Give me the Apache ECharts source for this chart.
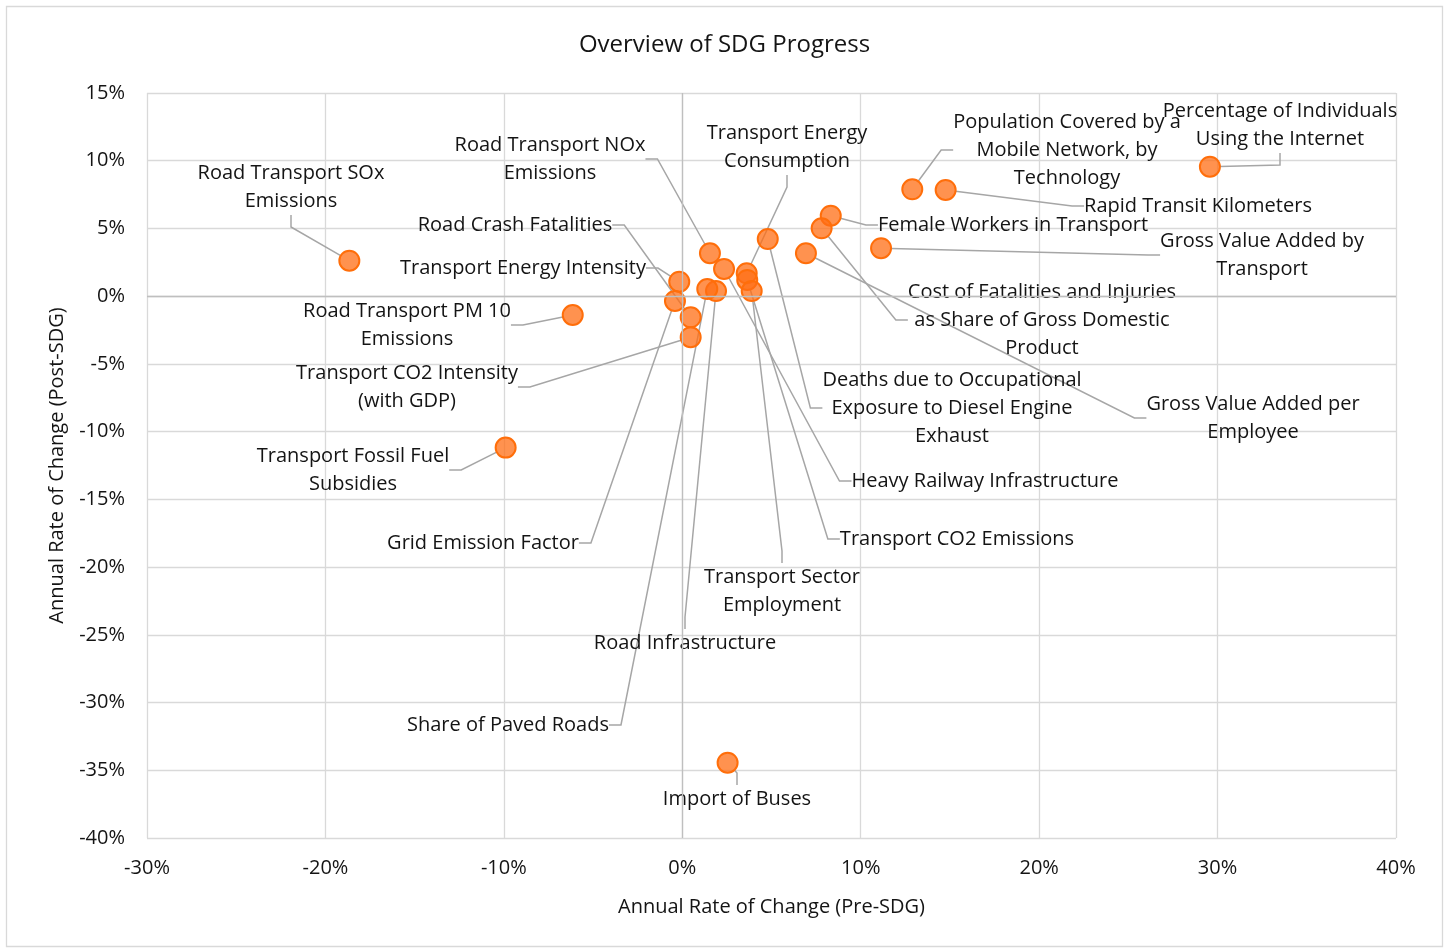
<!DOCTYPE html>
<html>
<head>
<meta charset="utf-8">
<script src="https://cdn.jsdelivr.net/npm/echarts@6/dist/echarts.min.js"></script>
<style>
  html, body { margin: 0; padding: 0; background: #fff; }
  #chartTest { width: 1449px; height: 948px; }
</style>
</head>
<body>
<div id="chartTest"></div>
<script>
var myChart = echarts.init(document.getElementById("chartTest"));

// indicator names (line breaks as in the picture)
var names = [
	"Road Transport SOx\nEmissions",
	"Road Transport NOx\nEmissions",
	"Transport Energy\nConsumption",
	"Population Covered by a\nMobile Network, by\nTechnology",
	"Percentage of Individuals\nUsing the Internet",
	"Rapid Transit Kilometers",
	"Female Workers in Transport",
	"Gross Value Added by\nTransport",
	"Road Crash Fatalities",
	"Transport Energy Intensity",
	"Road Transport PM 10\nEmissions",
	"Cost of Fatalities and Injuries\nas Share of Gross Domestic\nProduct",
	"Transport CO2 Intensity\n(with GDP)",
	"Deaths due to Occupational\nExposure to Diesel Engine\nExhaust",
	"Gross Value Added per\nEmployee",
	"Transport Fossil Fuel\nSubsidies",
	"Heavy Railway Infrastructure",
	"Grid Emission Factor",
	"Transport CO2 Emissions",
	"Transport Sector\nEmployment",
	"Road Infrastructure",
	"Share of Paved Roads",
	"Import of Buses"
];

// annual rate of change, pre-SDG (%)
var preSDG = [-18.66, 1.55, 3.61, 12.89, 29.57, 14.76, 8.32, 11.14, 0.47, -0.17, -6.14, 7.81,
	0.47, 4.79, 6.93, -9.90, 2.34, -0.41, 3.64, 3.89, 1.89, 1.40, 2.54];

// annual rate of change, post-SDG (%)
var postSDG = [2.62, 3.17, 1.69, 7.89, 9.56, 7.84, 5.94, 3.54, -1.56, 1.07, -1.39, 5.01,
	-3.03, 4.22, 3.17, -11.18, 2.01, -0.35, 1.20, 0.38, 0.38, 0.53, -34.44];

// where each label box is centred on the page (layout only)
var labelAt = [
	[291, 187], [550, 159], [787, 147], [1067, 150], [1280, 125], [1198, 206],
	[1013, 225], [1262, 255], [515, 225], [523, 268], [407, 325], [1042, 320],
	[407, 387], [952, 408], [1253, 418], [353, 470], [985, 481], [483, 543],
	[957, 539], [782, 591], [685, 643], [508, 725], [737, 799]
];

var points = [];
for (var i = 0; i < names.length; i++) {
	points.push({ name: names[i], value: [preSDG[i], postSDG[i]] });
}

var fontName = "'Open Sans', 'Noto Sans', sans-serif";
var textColor = '#141414';

var option = {
	backgroundColor: '#ffffff',
	animation: false,
	title: {
		text: 'Overview of SDG Progress',
		left: 'center',
		top: 33,
		padding: 0,
		textStyle: {
			fontFamily: fontName,
			fontSize: 24,
			fontWeight: 'normal',
			color: textColor
		}
	},
	graphic: [{
		type: 'rect',
		silent: true,
		shape: { x: 6.5, y: 6.5, width: 1436, height: 940 },
		style: { fill: 'none', stroke: '#d9d9d9', lineWidth: 1.3 }
	}],
	grid: {
		left: 147,
		right: 53,
		top: 93,
		bottom: 110
	},
	xAxis: {
		type: 'value',
		min: -30,
		max: 40,
		interval: 10,
		name: 'Annual Rate of Change (Pre-SDG)',
		nameLocation: 'middle',
		nameGap: 59,
		nameTextStyle: { fontFamily: fontName, fontSize: 20, color: textColor },
		axisLine: { show: false },
		axisTick: { show: false },
		axisLabel: {
			margin: 20,
			fontFamily: fontName,
			fontSize: 20,
			color: textColor,
			formatter: function(v) { return v + '%'; }
		},
		splitLine: { lineStyle: { color: '#d9d9d9', width: 1.3 } }
	},
	yAxis: {
		type: 'value',
		min: -40,
		max: 15,
		interval: 5,
		name: 'Annual Rate of Change (Post-SDG)',
		nameLocation: 'middle',
		nameGap: 80,
		nameTextStyle: { fontFamily: fontName, fontSize: 20, color: textColor },
		axisLine: { show: false },
		axisTick: { show: false },
		axisLabel: {
			margin: 22,
			fontFamily: fontName,
			fontSize: 20,
			color: textColor,
			formatter: function(v) { return v + '%'; }
		},
		splitLine: { lineStyle: { color: '#d9d9d9', width: 1.3 } }
	},
	series: [{
		type: 'scatter',
		data: points,
		symbol: 'circle',
		symbolSize: 20,
		itemStyle: {
			color: 'rgba(255,110,20,0.75)',
			borderColor: '#ff6e0a',
			borderWidth: 2,
			opacity: 1
		},
		label: {
			show: true,
			formatter: function(p) { return p.name; },
			fontFamily: fontName,
			fontSize: 20,
			lineHeight: 28,
			color: textColor,
			align: 'center'
		},
		labelLine: {
			show: true,
			length2: 12,
			lineStyle: { color: '#a6a6a6', width: 1.5 }
		},
		labelLayout: function(params) {
			var pos = labelAt[params.dataIndex];
			return {
				x: pos[0],
				y: pos[1],
				align: 'center',
				verticalAlign: 'middle'
			};
		},
		markLine: {
			silent: true,
			symbol: 'none',
			label: { show: false },
			lineStyle: { color: '#bfbfbf', width: 1.3, type: 'solid' },
			data: [{ xAxis: 0 }, { yAxis: 0 }]
		},
		z: 3
	}]
};

myChart.setOption(option);
</script>
</body>
</html>
